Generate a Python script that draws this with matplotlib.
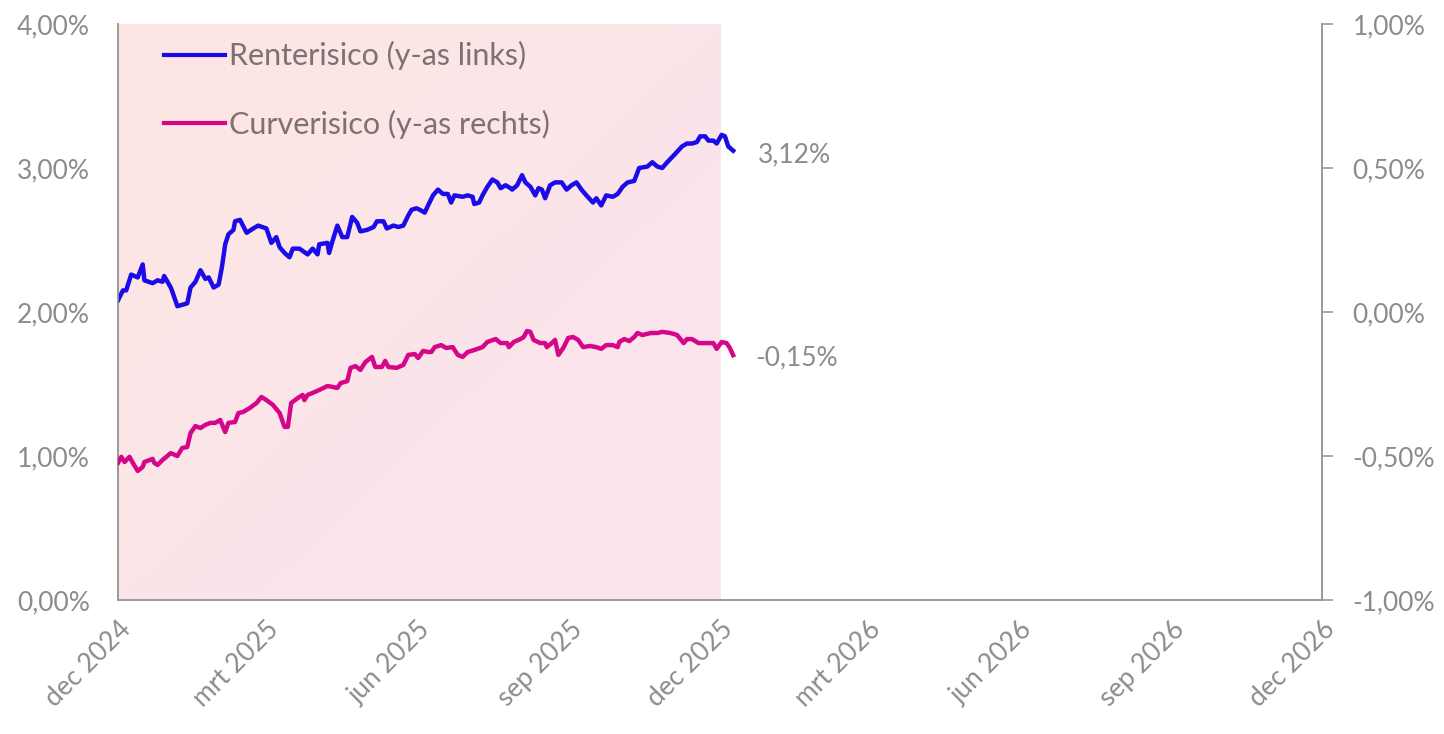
import numpy as np
import pandas as pd
import matplotlib
matplotlib.use("Agg")
import matplotlib.pyplot as plt
import matplotlib.dates as mdates
from matplotlib.colors import LinearSegmentedColormap
from matplotlib.ticker import FuncFormatter

plt.rcParams['font.family'] = ['Lato', 'DejaVu Sans']

# ---------------- DATA ----------------
rente_dates = [
    "2024-12-01", "2024-12-04", "2024-12-06", "2024-12-09", "2024-12-13", "2024-12-16", "2024-12-17",
    "2024-12-22", "2024-12-25", "2024-12-28", "2024-12-29", "2025-01-02", "2025-01-03", "2025-01-06",
    "2025-01-12", "2025-01-14", "2025-01-17", "2025-01-20", "2025-01-23", "2025-01-25", "2025-01-28",
    "2025-01-31", "2025-02-02", "2025-02-04", "2025-02-06", "2025-02-09", "2025-02-10", "2025-02-13",
    "2025-02-17", "2025-02-21", "2025-02-24", "2025-03-01", "2025-03-04", "2025-03-07", "2025-03-09",
    "2025-03-12", "2025-03-15", "2025-03-17", "2025-03-21", "2025-03-26", "2025-03-29", "2025-04-01",
    "2025-04-02", "2025-04-07", "2025-04-08", "2025-04-10", "2025-04-13", "2025-04-16", "2025-04-19",
    "2025-04-22", "2025-04-25", "2025-04-27", "2025-05-01", "2025-05-05", "2025-05-07", "2025-05-11",
    "2025-05-13", "2025-05-17", "2025-05-20", "2025-05-23", "2025-05-26", "2025-05-28", "2025-05-31",
    "2025-06-02", "2025-06-05", "2025-06-07", "2025-06-10", "2025-06-13", "2025-06-16", "2025-06-19",
    "2025-06-21", "2025-06-23", "2025-06-28", "2025-07-01", "2025-07-04", "2025-07-05", "2025-07-08",
    "2025-07-10", "2025-07-13", "2025-07-16", "2025-07-19", "2025-07-21", "2025-07-24", "2025-07-27",
    "2025-07-28", "2025-07-31", "2025-08-03", "2025-08-05", "2025-08-08", "2025-08-11", "2025-08-13",
    "2025-08-15", "2025-08-17", "2025-08-20", "2025-08-23", "2025-08-27", "2025-08-30", "2025-09-02",
    "2025-09-05", "2025-09-08", "2025-09-11", "2025-09-15", "2025-09-17", "2025-09-20", "2025-09-23",
    "2025-09-27", "2025-09-30", "2025-10-03", "2025-10-06", "2025-10-10", "2025-10-13", "2025-10-18",
    "2025-10-21", "2025-10-24", "2025-10-27", "2025-10-30", "2025-11-04", "2025-11-08", "2025-11-11",
    "2025-11-14", "2025-11-17", "2025-11-19", "2025-11-22", "2025-11-24", "2025-11-27", "2025-11-29",
    "2025-12-02", "2025-12-04", "2025-12-06", "2025-12-09",
]
rente_values = [
    2.08, 2.15, 2.15, 2.26, 2.24, 2.33, 2.22,
    2.20, 2.22, 2.21, 2.25, 2.17, 2.14, 2.04,
    2.06, 2.17, 2.21, 2.29, 2.23, 2.24, 2.17,
    2.19, 2.31, 2.47, 2.54, 2.57, 2.63, 2.64,
    2.55, 2.58, 2.60, 2.58, 2.48, 2.52, 2.45,
    2.41, 2.38, 2.44, 2.44, 2.40, 2.44, 2.40,
    2.47, 2.48, 2.41, 2.49, 2.60, 2.52, 2.52,
    2.66, 2.62, 2.56, 2.57, 2.59, 2.63, 2.63,
    2.58, 2.60, 2.59, 2.60, 2.67, 2.71, 2.72,
    2.71, 2.69, 2.74, 2.81, 2.85, 2.82, 2.82,
    2.76, 2.81, 2.80, 2.81, 2.80, 2.75, 2.76,
    2.81, 2.87, 2.92, 2.90, 2.86, 2.88, 2.86,
    2.85, 2.88, 2.95, 2.90, 2.87, 2.81, 2.86,
    2.85, 2.79, 2.88, 2.90, 2.90, 2.85, 2.88,
    2.90, 2.85, 2.81, 2.76, 2.79, 2.74, 2.81,
    2.80, 2.82, 2.87, 2.90, 2.91, 3.00, 3.01,
    3.04, 3.01, 3.00, 3.04, 3.10, 3.15, 3.17,
    3.17, 3.18, 3.22, 3.22, 3.19, 3.19, 3.17,
    3.23, 3.22, 3.15, 3.12,
]

curve_dates = [
    "2024-12-01", "2024-12-03", "2024-12-05", "2024-12-08", "2024-12-10", "2024-12-13", "2024-12-16",
    "2024-12-17", "2024-12-22", "2024-12-23", "2024-12-25", "2024-12-28", "2025-01-02", "2025-01-06",
    "2025-01-09", "2025-01-12", "2025-01-14", "2025-01-17", "2025-01-20", "2025-01-23", "2025-01-26",
    "2025-01-29", "2025-02-01", "2025-02-04", "2025-02-06", "2025-02-10", "2025-02-12", "2025-02-15",
    "2025-02-19", "2025-02-23", "2025-02-26", "2025-03-01", "2025-03-05", "2025-03-09", "2025-03-12",
    "2025-03-14", "2025-03-16", "2025-03-20", "2025-03-23", "2025-03-24", "2025-03-26", "2025-03-29",
    "2025-04-02", "2025-04-07", "2025-04-10", "2025-04-13", "2025-04-15", "2025-04-19", "2025-04-21",
    "2025-04-24", "2025-04-27", "2025-04-30", "2025-05-04", "2025-05-06", "2025-05-10", "2025-05-12",
    "2025-05-14", "2025-05-19", "2025-05-23", "2025-05-26", "2025-05-30", "2025-06-01", "2025-06-04",
    "2025-06-07", "2025-06-09", "2025-06-11", "2025-06-15", "2025-06-18", "2025-06-22", "2025-06-25",
    "2025-06-28", "2025-07-01", "2025-07-05", "2025-07-10", "2025-07-13", "2025-07-18", "2025-07-21",
    "2025-07-25", "2025-07-26", "2025-07-29", "2025-08-02", "2025-08-04", "2025-08-06", "2025-08-08",
    "2025-08-10", "2025-08-14", "2025-08-17", "2025-08-18", "2025-08-21", "2025-08-23", "2025-08-25",
    "2025-08-28", "2025-08-31", "2025-09-03", "2025-09-06", "2025-09-09", "2025-09-13", "2025-09-17",
    "2025-09-20", "2025-09-23", "2025-09-27", "2025-09-30", "2025-10-01", "2025-10-04", "2025-10-07",
    "2025-10-10", "2025-10-12", "2025-10-15", "2025-10-20", "2025-10-24", "2025-10-27", "2025-11-01",
    "2025-11-05", "2025-11-09", "2025-11-11", "2025-11-14", "2025-11-18", "2025-11-21", "2025-11-25",
    "2025-11-27", "2025-11-29", "2025-12-02", "2025-12-05", "2025-12-07", "2025-12-09",
]
curve_values = [
    -0.524, -0.503, -0.521, -0.503, -0.524, -0.552, -0.538,
    -0.521, -0.510, -0.524, -0.531, -0.514, -0.490, -0.500,
    -0.472, -0.469, -0.420, -0.396, -0.403, -0.392, -0.385,
    -0.385, -0.375, -0.417, -0.385, -0.382, -0.351, -0.347,
    -0.333, -0.316, -0.295, -0.306, -0.323, -0.351, -0.399,
    -0.399, -0.316, -0.299, -0.288, -0.306, -0.288, -0.281,
    -0.271, -0.257, -0.260, -0.264, -0.247, -0.240, -0.194,
    -0.188, -0.201, -0.174, -0.156, -0.191, -0.191, -0.170,
    -0.191, -0.194, -0.184, -0.149, -0.146, -0.160, -0.135,
    -0.139, -0.139, -0.122, -0.115, -0.125, -0.122, -0.149,
    -0.156, -0.139, -0.132, -0.122, -0.104, -0.094, -0.108,
    -0.108, -0.122, -0.104, -0.094, -0.087, -0.066, -0.069,
    -0.097, -0.108, -0.108, -0.122, -0.108, -0.097, -0.149,
    -0.125, -0.090, -0.087, -0.097, -0.122, -0.118, -0.122,
    -0.128, -0.115, -0.115, -0.122, -0.104, -0.094, -0.101,
    -0.087, -0.073, -0.080, -0.073, -0.073, -0.069, -0.073,
    -0.080, -0.108, -0.094, -0.094, -0.108, -0.108, -0.108,
    -0.108, -0.128, -0.104, -0.108, -0.125, -0.150,
]

month_ticks = ["2024-12-01", "2025-03-01", "2025-06-01", "2025-09-01", "2025-12-01",
               "2026-03-01", "2026-06-01", "2026-09-01", "2026-12-01"]
month_labels = ["dec 2024", "mrt 2025", "jun 2025", "sep 2025", "dec 2025",
                "mrt 2026", "jun 2026", "sep 2026", "dec 2026"]
shade_start, shade_end = "2024-12-01", "2025-12-01"

rente_label = "Renterisico (y-as links)"
curve_label = "Curverisico (y-as rechts)"

# ---------------- PLOT ----------------
GRAY = "#8c8c8c"
SPINE = "#9a9a9a"
BLUE = "#1a0be8"
MAGENTA = "#d4068a"

rd = pd.to_datetime(rente_dates)
cd = pd.to_datetime(curve_dates)
ticks = pd.to_datetime(month_ticks)

fig = plt.figure(figsize=(14.44, 7.34), dpi=100)
ax = fig.add_axes([0.0817, 0.1826, 0.8338, 0.7847])
ax2 = ax.twinx()

x0 = mdates.date2num(pd.Timestamp(shade_start))
x1 = mdates.date2num(pd.Timestamp(shade_end))

# gradient shading
cmap = LinearSegmentedColormap.from_list("bg", ["#fde6e2", "#fbe4ef"])
gx, gy = np.meshgrid(np.linspace(0, 1, 200), np.linspace(0, 1, 200))
grad = (gx + gy) / 2
ax.imshow(grad, extent=[x0, x1, 0, 4], origin="upper", cmap=cmap,
          aspect="auto", zorder=0, interpolation="bicubic")

l1, = ax.plot(rd, rente_values, color=BLUE, lw=3.2, label=rente_label, zorder=3)
l2, = ax2.plot(cd, curve_values, color=MAGENTA, lw=3.2, label=curve_label, zorder=3)

ax.set_xlim(mdates.date2num(ticks[0]), mdates.date2num(ticks[-1]))
ax.set_ylim(0, 4)
ax2.set_ylim(-1, 1)
ax.set_yticks([0, 1, 2, 3, 4])
ax2.set_yticks([-1, -0.5, 0, 0.5, 1])

fmt = FuncFormatter(lambda v, p: f"{v:.2f}%".replace(".", ","))
ax.yaxis.set_major_formatter(fmt)
ax2.yaxis.set_major_formatter(fmt)

ax.set_xticks(mdates.date2num(ticks))
ax.set_xticklabels(month_labels, rotation=45, ha="right", rotation_mode="anchor")

for a in (ax, ax2):
    for s in a.spines.values():
        s.set_color(SPINE)
        s.set_linewidth(1.2)
    a.spines["top"].set_visible(False)
    a.tick_params(colors=GRAY, labelsize=19)

ax.tick_params(axis="y", length=0, pad=20)
ax.tick_params(axis="x", length=0, pad=12)
ax2.tick_params(axis="y", length=8, width=1.2, color=SPINE, pad=14)

# end labels
ax.annotate(f"{rente_values[-1]:.2f}%".replace(".", ","), (rd[-1], rente_values[-1]),
            xytext=(18, -3), textcoords="offset points", va="center",
            color=GRAY, fontsize=19)
ax2.annotate(f"{curve_values[-1]:.2f}%".replace(".", ","), (cd[-1], curve_values[-1]),
             xytext=(16, -2), textcoords="offset points", va="center",
             color=GRAY, fontsize=19)

leg = ax.legend(handles=[l1, l2], loc="upper left", bbox_to_anchor=(0.015, 1.018),
                frameon=False, fontsize=22, labelspacing=1.3, handlelength=2.0,
                handletextpad=0.15, labelcolor="#7d7171")
for h in leg.legend_handles:
    h.set_linewidth(3)

fig.savefig("out.png", dpi=100)
